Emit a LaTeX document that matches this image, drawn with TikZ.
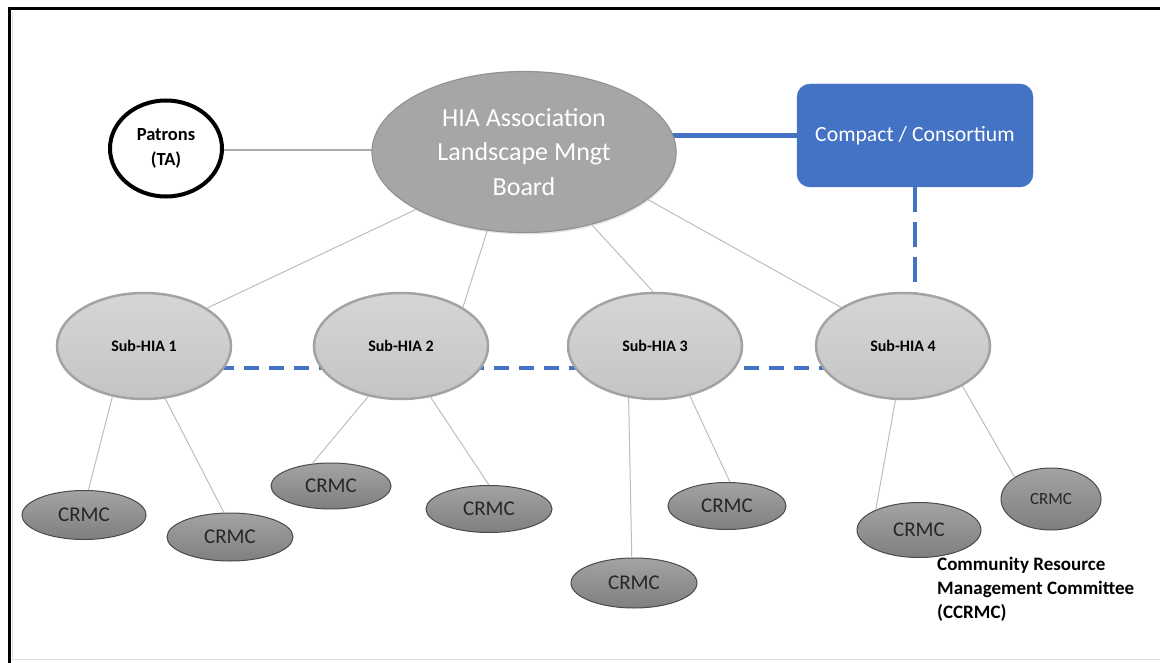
\documentclass[tikz,border=0pt]{standalone}
\usepackage{fontspec}
\setmainfont{Carlito}
\usetikzlibrary{shapes.geometric,shadows,backgrounds}
\definecolor{hiablue}{HTML}{4472C4}
\definecolor{maingray}{HTML}{A6A6A6}
\definecolor{mainedge}{HTML}{929292}
\definecolor{subtop}{HTML}{D6D6D6}
\definecolor{subbot}{HTML}{C4C4C4}
\definecolor{subedge}{HTML}{A3A3A3}
\definecolor{crmctop}{HTML}{A3A3A3}
\definecolor{crmcbot}{HTML}{7F7F7F}
\definecolor{crmcedge}{HTML}{4A4A4A}
\definecolor{linkgray}{HTML}{BDBDBD}
\definecolor{patline}{HTML}{ABABAB}
\tikzset{
  subhia/.style={ellipse, draw=subedge, line width=2.5pt, top color=subtop, bottom color=subbot,
    minimum width=174pt, minimum height=106pt, inner sep=0pt, text=black,
    font=\fontsize{16}{19}\selectfont\bfseries},
  crmc/.style={ellipse, draw=crmcedge, line width=1pt, top color=crmctop, bottom color=crmcbot,
    inner sep=0pt, text=black!85, font=\fontsize{21}{24}\selectfont},
  thinlink/.style={draw=linkgray, line width=1pt},
  bluedash/.style={draw=hiablue, line width=3.5pt, dash pattern=on 15pt off 10pt},
  bluedashlong/.style={draw=hiablue, line width=3.5pt, dash pattern=on 25pt off 10pt},
}
\begin{document}
\begin{tikzpicture}[x=1pt,y=-1pt]
\useasboundingbox (0,0) rectangle (1160,663);
% frame
\draw[black!12, line width=1pt] (12.5,12) -- (12.5,659) -- (1160,659);
\draw[black, line width=3pt] (9,663) -- (9,9) -- (1160,9);

% main nodes
\node[ellipse, fill=maingray, draw=mainedge, line width=1.2pt, minimum width=304pt, minimum height=161pt,
  inner sep=0pt, text=white, align=center, font=\fontsize{26}{34.5}\selectfont,
  drop shadow={opacity=0.2, shadow xshift=1pt, shadow yshift=-2pt}] (main) at (524,152)
  {HIA Association\\Landscape Mngt\\Board};
\node[ellipse, draw=black, line width=4pt, fill=white, minimum width=112pt, minimum height=96pt,
  inner sep=0pt, align=center, font=\fontsize{18.5}{25}\selectfont\bfseries] (pat) at (166,148.5)
  {\raisebox{-2pt}{Patrons}\\\raisebox{-2pt}{(TA)}};
\node[rectangle, rounded corners=13pt, fill=hiablue, draw=hiablue, minimum width=236pt, minimum height=103pt,
  text=white, font=\fontsize{21.7}{26}\selectfont] (cc) at (915,135.5) {\raisebox{-1.5pt}{Compact / Consortium}};

% sub-HIAs
\node[subhia] (s1) at (144,346) {Sub-HIA 1};
\node[subhia] (s2) at (401,346) {Sub-HIA 2};
\node[subhia] (s3) at (655,346) {Sub-HIA 3};
\node[subhia] (s4) at (903,346) {Sub-HIA 4};

% CRMCs
\node[crmc, minimum width=124pt, minimum height=49pt] (c1) at (84,515) {CRMC};
\node[crmc, minimum width=126pt, minimum height=48pt] (c2) at (230,537) {CRMC};
\node[crmc, minimum width=120pt, minimum height=46pt] (c3) at (331,486) {CRMC};
\node[crmc, minimum width=126pt, minimum height=47pt] (c4) at (489,509) {CRMC};
\node[crmc, minimum width=126pt, minimum height=50pt] (c5) at (634,583) {CRMC};
\node[crmc, minimum width=118pt, minimum height=47pt] (c6) at (727,506) {CRMC};
\node[crmc, minimum width=124pt, minimum height=55pt] (c7) at (919,530) {CRMC};
\node[crmc, minimum width=100pt, minimum height=62pt, font=\fontsize{17}{20}\selectfont] (c8) at (1051,499) {CRMC};

% note
\node[anchor=north west, inner sep=0pt, align=left, font=\fontsize{19}{24}\selectfont\bfseries] (note) at (937,557)
  {Community Resource\\Management Committee\\(CCRMC)};

% connectors
\begin{scope}[on background layer]
  \path (pat.center) ++(0,1.5) coordinate (pl);
  \draw[draw=patline, line width=2pt] (pl) -- (pl -| main.center);
  \draw[draw=hiablue, line width=5pt] (cc.west) -- (main.center |- cc.west);
  \draw[bluedashlong] (cc.south) -- (cc.south |- s4.center);
  \path (s1.center) ++(0,22) coordinate (d1);
  \path (s4.center) ++(0,22) coordinate (d4);
  \draw[bluedash] (d1) -- (d4);
\end{scope}

\draw[thinlink] (main.208) -- (s1.31);
\draw[thinlink] (main.245) -- (s2.32);
\draw[thinlink] (main.313) -- (s3.92);
\draw[thinlink] (main.339) -- (s4.148);

\draw[thinlink] (s1.238) -- (c1.80);
\draw[thinlink] (s1.292) -- (c2.104);
\draw[thinlink] (s2.237) -- (c3.130);
\draw[thinlink] (s2.300) -- (c4.90);
\draw[thinlink] (s3.243) -- (c5.95);
\draw[thinlink] (s3.305) -- (c6.83);
\draw[thinlink] (s4.262) -- (c7.155);
\draw[thinlink] (s4.326) -- (c8.149);
\end{tikzpicture}
\end{document}
